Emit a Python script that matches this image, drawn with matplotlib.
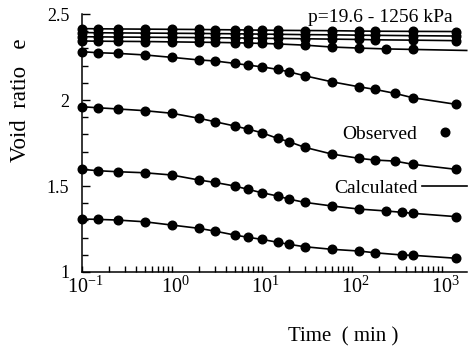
import matplotlib
matplotlib.use('Agg')
import matplotlib.pyplot as plt
from matplotlib.lines import Line2D
from matplotlib.ticker import LogLocator, MultipleLocator, FuncFormatter, NullFormatter
import matplotlib.transforms as mtransforms

plt.rcParams['font.family'] = ['Liberation Serif', 'DejaVu Serif']
plt.rcParams['mathtext.fontset'] = 'custom'
plt.rcParams['mathtext.rm'] = 'Liberation Serif'
plt.rcParams['mathtext.it'] = 'Liberation Serif:italic'

# ---------------- data (time in min, void ratio e) ----------------
t_1 = [0.1, 0.15, 0.25, 0.5, 1, 2, 3, 5, 7, 10, 15, 30, 60, 120, 180, 480, 1440]
e_1 = [2.415, 2.414, 2.413, 2.412, 2.411, 2.410, 2.409, 2.408, 2.407, 2.406, 2.405,
       2.404, 2.403, 2.401, 2.400, 2.399, 2.398]

t_2 = [0.1, 0.15, 0.25, 0.5, 1, 2, 3, 5, 7, 10, 15, 30, 60, 120, 180, 480, 1440]
e_2 = [2.392, 2.391, 2.390, 2.389, 2.388, 2.387, 2.386, 2.385, 2.384, 2.383, 2.382,
       2.380, 2.379, 2.377, 2.376, 2.374, 2.372]

t_3 = [0.1, 0.15, 0.25, 0.5, 1, 2, 3, 5, 7, 10, 15, 30, 60, 120, 180, 480, 1440]
e_3 = [2.368, 2.367, 2.366, 2.365, 2.364, 2.363, 2.362, 2.361, 2.360, 2.359, 2.358,
       2.356, 2.354, 2.352, 2.350, 2.348, 2.345]

t_4 = [0.1, 0.15, 0.25, 0.5, 1, 2, 3, 5, 7, 10, 15, 30, 60, 120, 240, 480]
e_4 = [2.343, 2.342, 2.341, 2.340, 2.338, 2.336, 2.335, 2.333, 2.331, 2.329, 2.326,
       2.319, 2.308, 2.302, 2.297, 2.294]
t_4_calc_end = 1900
e_4_calc_end = 2.288

t_5 = [0.1, 0.15, 0.25, 0.5, 1, 2, 3, 5, 7, 10, 15, 20, 30, 60, 120, 180, 300, 480, 1440]
e_5 = [2.281, 2.275, 2.271, 2.262, 2.248, 2.233, 2.227, 2.213, 2.203, 2.193, 2.178,
       2.164, 2.141, 2.106, 2.077, 2.062, 2.039, 2.013, 1.975]

t_6 = [0.1, 0.15, 0.25, 0.5, 1, 2, 3, 5, 7, 10, 15, 20, 30, 60, 120, 180, 300, 480, 1440]
e_6 = [1.961, 1.955, 1.948, 1.938, 1.923, 1.894, 1.874, 1.849, 1.831, 1.810, 1.777,
       1.758, 1.725, 1.686, 1.661, 1.651, 1.645, 1.626, 1.597]

t_7 = [0.1, 0.15, 0.25, 0.5, 1, 2, 3, 5, 7, 10, 15, 20, 30, 60, 120, 240, 360, 480, 1440]
e_7 = [1.597, 1.589, 1.583, 1.577, 1.564, 1.535, 1.521, 1.500, 1.481, 1.461, 1.442,
       1.424, 1.405, 1.384, 1.366, 1.355, 1.347, 1.341, 1.322]

t_8 = [0.1, 0.15, 0.25, 0.5, 1, 2, 3, 5, 7, 10, 15, 20, 30, 60, 120, 180, 360, 480, 1440]
e_8 = [1.308, 1.306, 1.302, 1.292, 1.273, 1.254, 1.238, 1.215, 1.202, 1.190, 1.173,
       1.161, 1.147, 1.132, 1.122, 1.112, 1.099, 1.097, 1.080]

x_decades = [0.1, 1, 10, 100, 1000]
x_tick_labels = [r'$\mathregular{10^{-1}}$', r'$\mathregular{10^{0}}$', r'$\mathregular{10^{1}}$',
                 r'$\mathregular{10^{2}}$', r'$\mathregular{10^{3}}$']

# ---------------- figure ----------------
fig = plt.figure(figsize=(4.68, 3.57), dpi=100)
ax = fig.add_axes([81.7 / 468, 85 / 357, 385 / 468, 258 / 357])

series = [(t_1, e_1), (t_2, e_2), (t_3, e_3), (t_4, e_4),
          (t_5, e_5), (t_6, e_6), (t_7, e_7), (t_8, e_8)]
for t, e in series:
    ax.plot(t, e, '-', color='black', lw=1.2, clip_on=False, zorder=2)
    ax.plot(t, e, 'o', color='black', ms=6.2, mec='black', clip_on=False, zorder=3)
# calculated line continues past last observation for curve 4
ax.plot([t_4[-1], t_4_calc_end], [e_4[-1], e_4_calc_end], '-', color='black', lw=1.2,
        clip_on=False, zorder=2)

ax.set_xscale('log')
ax.set_xlim(0.1, 1900)
ax.set_ylim(1, 2.5)

for s in ['top', 'right']:
    ax.spines[s].set_visible(False)
for s in ['left', 'bottom']:
    ax.spines[s].set_linewidth(1.1)

ax.set_xticks(x_decades)
ax.set_xticklabels(x_tick_labels)
ax.xaxis.set_minor_locator(LogLocator(base=10, subs=range(2, 10)))
ax.xaxis.set_minor_formatter(NullFormatter())
ax.yaxis.set_major_locator(MultipleLocator(0.5))
ax.yaxis.set_minor_locator(MultipleLocator(0.1))
ax.yaxis.set_major_formatter(FuncFormatter(lambda v, p: '%g' % v))

ax.tick_params(axis='x', which='both', direction='in', length=4.5, width=1.0,
               labelsize=14.5, pad=3)
ax.tick_params(axis='y', which='major', direction='in', length=6, width=1.0,
               labelsize=13, pad=9)
ax.tick_params(axis='y', which='minor', direction='in', length=4, width=1.0)

# shift x labels so that the "10" sits centred on the tick
for lab in ax.get_xticklabels():
    lab.set_transform(lab.get_transform() +
                      mtransforms.ScaledTranslation(4 / 100, 0, fig.dpi_scale_trans))

ax.set_xlabel('Time  ( min )', fontsize=15, va='center')
ax.xaxis.set_label_coords(0.679, -0.252)
ax.set_ylabel('Void  ratio   e', fontsize=16.5, va='center')
ax.yaxis.set_label_coords(-0.158, 0.667)

ax.text(0.964, 0.986, 'p=19.6 - 1256 kPa', transform=ax.transAxes,
        ha='right', va='center', fontsize=14)

handles = [Line2D([], [], marker='o', ls='none', color='black', ms=6.2),
           Line2D([], [], color='black', lw=1.2)]
ax.legend(handles, ['Observed', 'Calculated'], loc='center right',
          bbox_to_anchor=(467 / 468, 1 - 161 / 357), bbox_transform=fig.transFigure,
          frameon=False, fontsize=14, markerfirst=False, handlelength=2.3,
          handletextpad=0.25, labelspacing=1.85, borderpad=0, borderaxespad=0)

fig.savefig('out.png', dpi=100)
